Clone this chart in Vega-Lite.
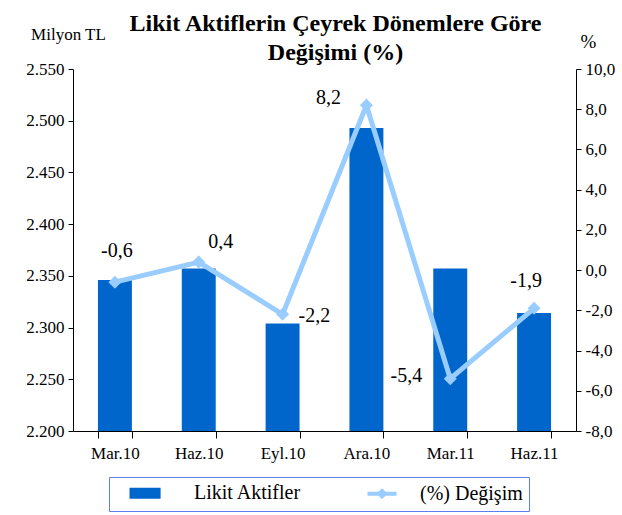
{
  "$schema": "https://vega.github.io/schema/vega-lite/v6.json",
  "width": 503,
  "height": 362,
  "autosize": {"type": "none"},
  "padding": {"left": 73, "top": 69, "right": 46, "bottom": 84},
  "background": "white",
  "config": {
    "locale": {"number": {"decimal": ",", "thousands": ".", "grouping": [3], "currency": ["", " TL"], "minus": "-"}},
    "font": "Liberation Serif, Times New Roman, Times, serif",
    "view": {"stroke": null},
    "text": {"font": "Liberation Serif, Times New Roman, Times, serif"},
    "axis": {"labelColor": "black", "titleColor": "black", "domainColor": "black", "tickColor": "black", "grid": false},
    "title": {"font": "Liberation Serif, Times New Roman, Times, serif"}
  },
  "title": {
    "text": ["Likit Aktiflerin Çeyrek Dönemlere Göre", "Değişimi (%)"],
    "fontSize": 24,
    "fontWeight": "bold",
    "color": "black",
    "anchor": "middle",
    "dx": 11,
    "offset": -40,
    "lineHeight": 29
  },
  "data": {
    "values": [
      {"donem": "Mar.10", "aktif": 2346, "degisim": -0.6, "pos": "a"},
      {"donem": "Haz.10", "aktif": 2357, "degisim": 0.4, "pos": "ur"},
      {"donem": "Eyl.10", "aktif": 2304, "degisim": -2.2, "pos": "r"},
      {"donem": "Ara.10", "aktif": 2493, "degisim": 8.2, "pos": "ul"},
      {"donem": "Mar.11", "aktif": 2357, "degisim": -5.4, "pos": "l"},
      {"donem": "Haz.11", "aktif": 2314, "degisim": -1.9, "pos": "u"}
    ]
  },
  "encoding": {
    "x": {
      "field": "donem", "type": "nominal", "sort": null,
      "scale": {"paddingInner": 0.595, "paddingOuter": 0.2975},
      "axis": {"title": null, "labelAngle": 0, "tickBand": "extent", "tickSize": 7, "labelPadding": 7, "labelFontSize": 17, "labelFont": "Liberation Serif, Times New Roman, Times, serif"}
    }
  },
  "layer": [
    {
      "mark": {"type": "bar", "color": "#0066cc"},
      "encoding": {
        "y": {
          "field": "aktif", "type": "quantitative",
          "scale": {"domain": [2200, 2550], "zero": false, "nice": false, "clamp": true},
          "axis": {"values": [2200, 2250, 2300, 2350, 2400, 2450, 2500, 2550], "format": ",d", "labelFontSize": 17, "labelFont": "Liberation Serif, Times New Roman, Times, serif", "title": "Milyon TL", "titleFont": "Liberation Serif, Times New Roman, Times, serif", "titleAngle": 0, "titleFontSize": 17, "titleFontWeight": "normal", "titleX": -5, "titleY": -30, "titleAlign": "center", "titleBaseline": "alphabetic", "tickSize": 5, "labelPadding": 4}
        },
        "color": {"datum": "Likit Aktifler", "type": "nominal",
          "scale": {"domain": ["Likit Aktifler", "(%) Değişim"], "range": ["#0066cc", "#99ccff"]},
          "legend": {
            "title": null, "orient": "none", "direction": "horizontal",
            "legendX": 36, "legendY": 408,
            "strokeColor": "#5b7ff0", "padding": 6, "fillColor": "white",
            "labelFontSize": 20, "labelColor": "black", "labelFont": "Liberation Serif, Times New Roman, Times, serif",
            "labelExpr": "datum.label === '(%) Değişim' ? datum.label + '\u00a0\u00a0\u00a0\u00a0\u00a0\u00a0\u00a0\u00a0' : datum.label",
            "labelLimit": 400,
            "symbolSize": 140, "labelOffset": 59, "columnPadding": 57,
            "gridAlign": "each",
            "symbolStrokeWidth": 4,
            "encode": {
              "symbols": {"update": {
                "shape": {"signal": "datum.value === 'Likit Aktifler' ? 'M1.1,-0.6H5.68V0.6H1.1Z' : 'M-1.1,0H3.81M1.36,-0.45L1.81,0L1.36,0.45L0.91,0Z'"},
                "fill": {"signal": "datum.value === 'Likit Aktifler' ? '#0066cc' : '#99ccff'"},
                "stroke": {"signal": "datum.value === 'Likit Aktifler' ? null : '#99ccff'"},
                "strokeWidth": {"value": 4}
              }},
              "labels": {"update": {
                "dx": {"signal": "datum.value === 'Likit Aktifler' ? 0 : -23"}
              }}
            }
          }
        }
      }
    },
    {
      "encoding": {
        "y": {
          "field": "degisim", "type": "quantitative",
          "scale": {"domain": [-8, 10], "nice": false, "zero": false},
          "axis": {"orient": "right", "values": [-8, -6, -4, -2, 0, 2, 4, 6, 8, 10], "format": ".1f", "labelFontSize": 17, "labelFont": "Liberation Serif, Times New Roman, Times, serif", "title": "%", "titleFont": "Liberation Serif, Times New Roman, Times, serif", "titleAngle": 0, "titleFontSize": 19, "titleFontWeight": "normal", "titleX": 12, "titleY": -22, "titleAlign": "center", "titleBaseline": "alphabetic", "tickSize": 5, "labelPadding": 4}
        }
      },
      "layer": [
        {
          "mark": {"type": "line", "color": "#99ccff", "strokeWidth": 5},
          "encoding": {"color": {"datum": "(%) Değişim", "type": "nominal"}}
        },
        {
          "mark": {"type": "point", "shape": "diamond", "filled": true, "size": 170, "color": "#99ccff", "opacity": 1},
          "encoding": {}
        },
        {
          "transform": [{"filter": "datum.pos === 'a'"}],
          "mark": {"type": "text", "fontSize": 20, "color": "black", "dx": 2, "dy": -31, "align": "center"},
          "encoding": {"text": {"field": "degisim", "type": "quantitative", "format": ".1f"}}
        },
        {
          "transform": [{"filter": "datum.pos === 'ul'"}],
          "mark": {"type": "text", "fontSize": 20, "color": "black", "dx": -38, "dy": -7, "align": "center"},
          "encoding": {"text": {"field": "degisim", "type": "quantitative", "format": ".1f"}}
        },
        {
          "transform": [{"filter": "datum.pos === 'ur'"}],
          "mark": {"type": "text", "fontSize": 20, "color": "black", "dx": 22, "dy": -20, "align": "center"},
          "encoding": {"text": {"field": "degisim", "type": "quantitative", "format": ".1f"}}
        },
        {
          "transform": [{"filter": "datum.pos === 'r'"}],
          "mark": {"type": "text", "fontSize": 20, "color": "black", "dx": 16, "dy": 2, "align": "left"},
          "encoding": {"text": {"field": "degisim", "type": "quantitative", "format": ".1f"}}
        },
        {
          "transform": [{"filter": "datum.pos === 'l'"}],
          "mark": {"type": "text", "fontSize": 20, "color": "black", "dx": -28, "dy": -3, "align": "right"},
          "encoding": {"text": {"field": "degisim", "type": "quantitative", "format": ".1f"}}
        },
        {
          "transform": [{"filter": "datum.pos === 'u'"}],
          "mark": {"type": "text", "fontSize": 20, "color": "black", "dx": -8, "dy": -27, "align": "center"},
          "encoding": {"text": {"field": "degisim", "type": "quantitative", "format": ".1f"}}
        }
      ]
    }
  ],
  "resolve": {"scale": {"y": "independent"}}
}
